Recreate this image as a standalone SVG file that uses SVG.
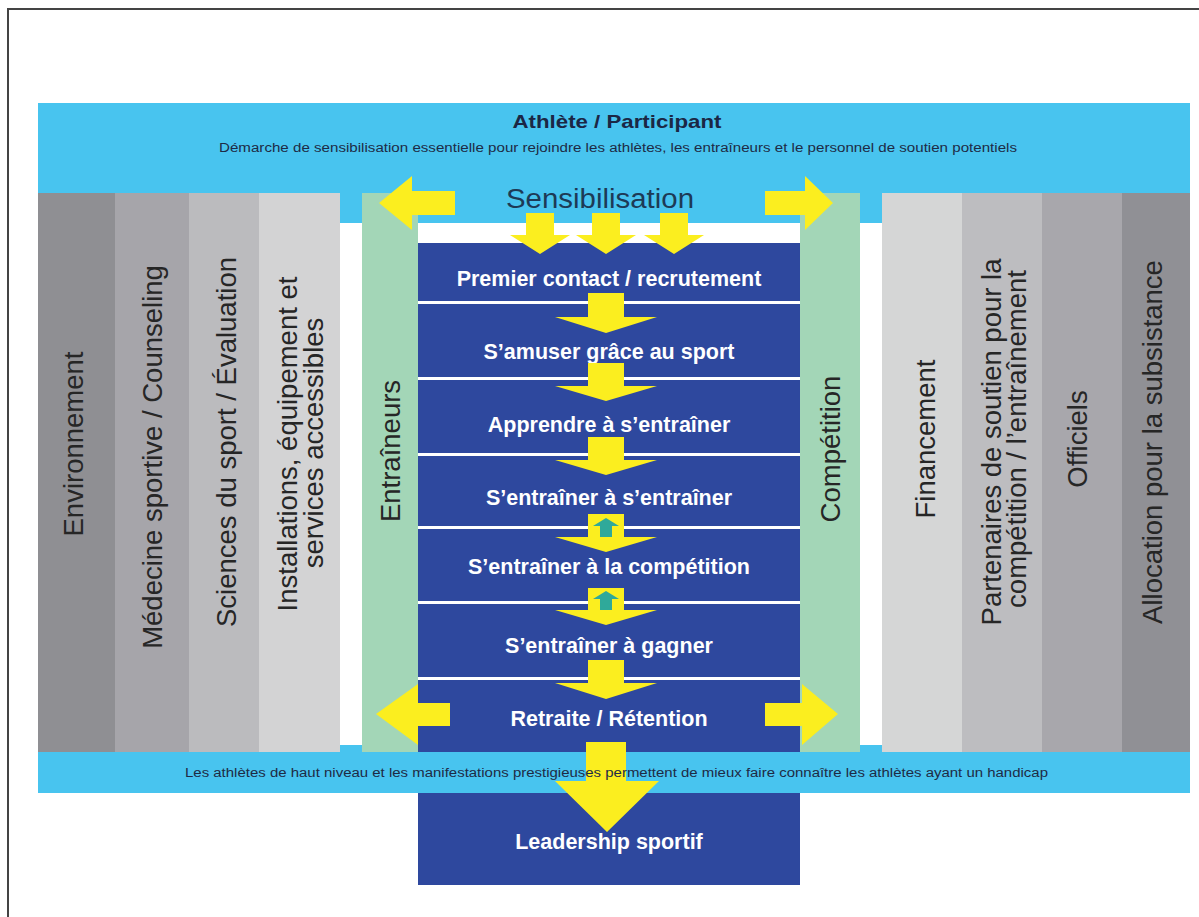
<svg xmlns="http://www.w3.org/2000/svg" width="1199" height="917" viewBox="0 0 1199 917">
<style>
.band{fill:#48c4ef}
.row{fill:#2e489e}
.green{fill:#a3d6b7}
.yel{fill:#fbee1f}
.teal{fill:#2fa99a}
.vt{font-family:"Liberation Sans",Arial,sans-serif;font-size:27.5px;fill:#262626;text-anchor:middle}
.rt{font-family:"Liberation Sans",Arial,sans-serif;font-size:21.5px;font-weight:bold;fill:#ffffff;text-anchor:middle}
.small{font-family:"Liberation Sans",Arial,sans-serif;font-size:12.5px;fill:#1e2b45}
</style>
<rect width="1199" height="917" fill="#ffffff"/>
<path d="M8,917 V9 H1199" fill="none" stroke="#444" stroke-width="2"/>

<g id="top-banner">
<rect class="band" x="38" y="103" width="1152" height="120"/>
<text x="617" y="128" font-family="'Liberation Sans',Arial,sans-serif" font-size="19" font-weight="bold" fill="#1b2745" text-anchor="middle" textLength="209" lengthAdjust="spacingAndGlyphs">Athlète / Participant</text>
<text class="small" x="219" y="152" textLength="798" lengthAdjust="spacingAndGlyphs">Démarche de sensibilisation essentielle pour rejoindre les athlètes, les entraîneurs et le personnel de soutien potentiels</text>
</g>

<g id="bottom-banner">
<rect class="band" x="38" y="745" width="1152" height="48"/>
</g>

<g id="environnement"><rect x="38" y="193" width="77" height="559" fill="#8f8f93"/><text class="vt" transform="translate(73,444) rotate(-90)" y="10">Environnement</text></g>
<g id="medecine"><rect x="115" y="193" width="74" height="559" fill="#a6a5aa"/><text class="vt" transform="translate(152,457) rotate(-90)" y="10">Médecine sportive / Counseling</text></g>
<g id="sciences"><rect x="189" y="193" width="70" height="559" fill="#bbbbbe"/><text class="vt" transform="translate(226,442) rotate(-90)" y="10">Sciences du sport / Évaluation</text></g>
<g id="installations"><rect x="259" y="193" width="81" height="559" fill="#d3d3d4"/><text class="vt" transform="translate(287,444) rotate(-90)" y="10">Installations, équipement et</text><text class="vt" transform="translate(313,443) rotate(-90)" y="10">services accessibles</text></g>

<g id="entraineurs"><rect class="green" x="362" y="193" width="56" height="559"/><text class="vt" transform="translate(390,451) rotate(-90)" y="10">Entraîneurs</text></g>
<g id="competition"><rect class="green" x="800" y="193" width="60" height="559"/><text class="vt" transform="translate(830,449) rotate(-90)" y="10">Compétition</text></g>

<g id="financement"><rect x="882" y="193" width="80" height="559" fill="#d5d6d6"/><text class="vt" transform="translate(925,439) rotate(-90)" y="10">Financement</text></g>
<g id="partenaires"><rect x="962" y="193" width="80" height="559" fill="#bdbdc0"/><text class="vt" transform="translate(991,442) rotate(-90)" y="10">Partenaires de soutien pour la</text><text class="vt" transform="translate(1016,439) rotate(-90)" y="10">compétition / l’entraînement</text></g>
<g id="officiels"><rect x="1042" y="193" width="80" height="559" fill="#a8a7ac"/><text class="vt" transform="translate(1077,439) rotate(-90)" y="10">Officiels</text></g>
<g id="allocation"><rect x="1122" y="193" width="68" height="559" fill="#909095"/><text class="vt" transform="translate(1152,442) rotate(-90)" y="10">Allocation pour la subsistance</text></g>

<g id="premier-contact"><rect class="row" x="418" y="243" width="382" height="58"/><text class="rt" x="609" y="285.5">Premier contact / recrutement</text></g>
<g id="samuser"><rect class="row" x="418" y="304" width="382" height="73"/><text class="rt" x="609" y="358.5">S’amuser grâce au sport</text></g>
<g id="apprendre"><rect class="row" x="418" y="380" width="382" height="73"/><text class="rt" x="609" y="431.5">Apprendre à s’entraîner</text></g>
<g id="entrainer-entrainer"><rect class="row" x="418" y="456" width="382" height="70"/><text class="rt" x="609" y="504.5">S’entraîner à s’entraîner</text></g>
<g id="entrainer-competition"><rect class="row" x="418" y="529" width="382" height="72"/><text class="rt" x="609" y="573.5">S’entraîner à la compétition</text></g>
<g id="entrainer-gagner"><rect class="row" x="418" y="604" width="382" height="73"/><text class="rt" x="609" y="652.5">S’entraîner à gagner</text></g>
<g id="retraite"><rect class="row" x="418" y="680" width="382" height="72"/><text class="rt" x="609" y="725.5">Retraite / Rétention</text></g>
<g id="leadership"><rect class="row" x="418" y="793" width="382" height="92"/><text class="rt" x="609" y="849" font-size="24">Leadership sportif</text></g>

<g id="connectors">
<polygon class="yel" points="455,191 412,191 412,176 379,203 412,230 412,215 455,215"/>
<polygon class="yel" points="765,191 805,191 805,176 833,203 805,230 805,215 765,215"/>
<polygon class="yel" points="526,213 554,213 554,235 570,235 540,254 510,235 526,235"/>
<polygon class="yel" points="592,213 620,213 620,235 636,235 606,254 576,235 592,235"/>
<polygon class="yel" points="660,213 688,213 688,235 704,235 674,254 644,235 660,235"/>
<polygon class="yel" points="588,293 624,293 624,317 657,317 606,333 555,317 588,317"/>
<polygon class="yel" points="588,363 624,363 624,386 657,386 606,401 555,386 588,386"/>
<polygon class="yel" points="588,437 624,437 624,460 657,460 606,475 555,460 588,460"/>
<polygon class="yel" points="588,514 624,514 624,537 657,537 606,552 555,537 588,537"/>
<polygon class="teal" points="606,518 619,526 612,526 612,537 600,537 600,526 593,526"/>
<polygon class="yel" points="588,588 624,588 624,610 657,610 606,625 555,610 588,610"/>
<polygon class="teal" points="606,591 619,599 612,599 612,610 600,610 600,599 593,599"/>
<polygon class="yel" points="588,660 624,660 624,683 657,683 606,699 555,683 588,683"/>
<polygon class="yel" points="450,703 418,703 418,684 376,714 418,745 418,726 450,726"/>
<polygon class="yel" points="765,703 802,703 802,684 838,714 802,745 802,726 765,726"/>
<polygon class="yel" points="586,742 626,742 626,781 659,781 607,832 555,781 586,781"/>
</g>

<text x="600" y="208" font-family="'Liberation Sans',Arial,sans-serif" font-size="27" fill="#1d3a56" text-anchor="middle" textLength="188" lengthAdjust="spacingAndGlyphs">Sensibilisation</text>
<text class="small" x="185" y="777" textLength="863" lengthAdjust="spacingAndGlyphs">Les athlètes de haut niveau et les manifestations prestigieuses permettent de mieux faire connaître les athlètes ayant un handicap</text>
</svg>
